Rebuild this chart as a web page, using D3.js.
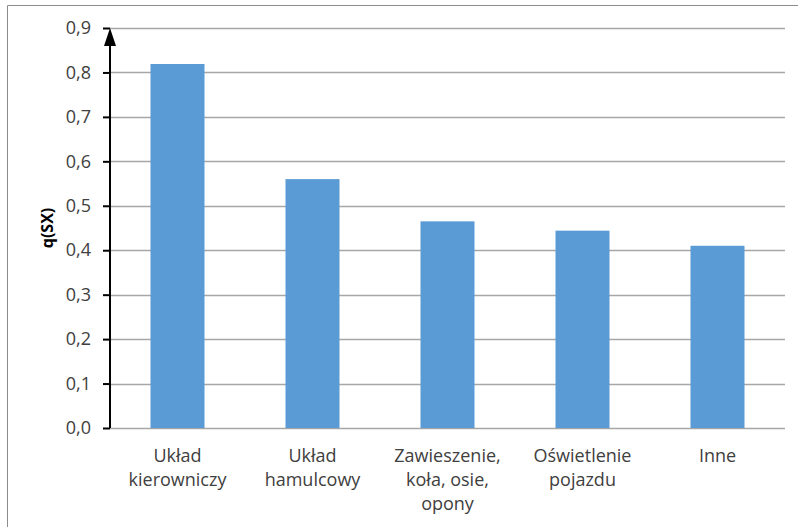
<!DOCTYPE html>
<html>
<head>
<meta charset="utf-8">
<script src="https://cdn.jsdelivr.net/npm/d3@7"></script>
<style>
  html, body { margin: 0; padding: 0; background: #fff; }
  svg { display: block; }
  text { font-family: "Open Sans", "Liberation Sans", sans-serif; }
</style>
</head>
<body>
<script>
// Categories (multi-line labels split on "\n") and their q(SX) values
const categories = [
  "Układ\nkierowniczy",
  "Układ\nhamulcowy",
  "Zawieszenie,\nkoła, osie,\nopony",
  "Oświetlenie\npojazdu",
  "Inne"
];
const values = [0.819, 0.560, 0.465, 0.444, 0.410];
const yTicks = [0, 0.1, 0.2, 0.3, 0.4, 0.5, 0.6, 0.7, 0.8, 0.9];
const yLabel = "q(SX)";

const W = 798, H = 527;
const margin = { left: 110, right: 13, top: 28, bottom: 99 };

const svg = d3.select("body").append("svg")
  .attr("width", W).attr("height", H);

// Chart frame (top and left edges visible)
svg.append("path")
  .attr("d", `M7.5,${H}V5.5H${W}`)
  .attr("fill", "none")
  .attr("stroke", "#8c8c8c")
  .attr("stroke-width", 1);

const x = d3.scaleBand()
  .domain(categories)
  .range([margin.left, W - margin.right])
  .paddingInner(0.6)
  .paddingOuter(0.3);

const y = d3.scaleLinear()
  .domain([0, 0.9])
  .range([H - margin.bottom, margin.top]);

// Horizontal gridlines
svg.append("g")
  .selectAll("line")
  .data(yTicks)
  .join("line")
  .attr("x1", margin.left)
  .attr("x2", W - margin.right)
  .attr("y1", d => Math.round(y(d)) + 0.5)
  .attr("y2", d => Math.round(y(d)) + 0.5)
  .attr("stroke", "#a6a6a6")
  .attr("stroke-width", 1.5);

// Bars
svg.append("g")
  .selectAll("rect")
  .data(values)
  .join("rect")
  .attr("x", (d, i) => x(categories[i]))
  .attr("width", x.bandwidth())
  .attr("y", d => y(d))
  .attr("height", d => y(0) - y(d))
  .attr("fill", "#5b9bd5");

// Y axis with outward ticks and comma decimal labels
const yAxis = d3.axisLeft(y)
  .tickValues(yTicks)
  .tickSize(7)
  .tickPadding(12)
  .tickFormat(d => d3.format(".1f")(d).replace(".", ","));

const yg = svg.append("g")
  .attr("transform", `translate(${margin.left},0)`)
  .call(yAxis);
yg.select(".domain").remove();
yg.selectAll(".tick line").attr("stroke", "#000").attr("stroke-width", 2);
yg.selectAll(".tick text")
  .attr("fill", "#404040")
  .style("font-size", "18px");

// Axis line with arrowhead at top
svg.append("line")
  .attr("x1", margin.left).attr("x2", margin.left)
  .attr("y1", y(0)).attr("y2", y(0.9) + 14)
  .attr("stroke", "#000").attr("stroke-width", 2);
svg.append("path")
  .attr("d", `M${margin.left},${y(0.9)} L${margin.left - 6},${y(0.9) + 18} L${margin.left + 6},${y(0.9) + 18} Z`)
  .attr("fill", "#000");

// Category labels
const xl = svg.append("g");
categories.forEach(c => {
  const lines = c.split("\n");
  const t = xl.append("text")
    .attr("x", x(c) + x.bandwidth() / 2)
    .attr("y", y(0) + 34)
    .attr("text-anchor", "middle")
    .attr("fill", "#404040")
    .style("font-size", "18px");
  lines.forEach((ln, i) => {
    t.append("tspan")
      .attr("x", x(c) + x.bandwidth() / 2)
      .attr("dy", i === 0 ? 0 : 24)
      .text(ln);
  });
});

// Y axis title
svg.append("text")
  .attr("transform", `translate(53,${(y(0) + y(0.9)) / 2}) rotate(-90)`)
  .attr("text-anchor", "middle")
  .attr("fill", "#000")
  .style("font-size", "16px")
  .style("font-weight", "bold")
  .text(yLabel);
</script>
</body>
</html>
